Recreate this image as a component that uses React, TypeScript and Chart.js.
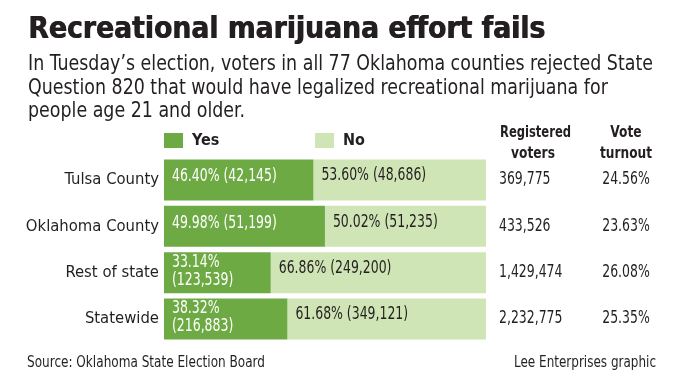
import React, { useEffect, useRef } from "react";
import { Chart, registerables } from "chart.js";

Chart.register(...registerables);

const titleText = "Recreational marijuana effort fails";
const subtitleLines = [
  "In Tuesday\u2019s election, voters in all 77 Oklahoma counties rejected State",
  "Question 820 that would have legalized recreational marijuana for",
  "people age 21 and older.",
];
const categories = ["Tulsa County", "Oklahoma County", "Rest of state", "Statewide"];
const yesPct = [46.4, 49.98, 33.14, 38.32];
const noPct = [53.6, 50.02, 66.86, 61.68];
const yesVotes = ["42,145", "51,199", "123,539", "216,883"];
const noVotes = ["48,686", "51,235", "249,200", "349,121"];
const registeredVoters = ["369,775", "433,526", "1,429,474", "2,232,775"];
const voteTurnout = ["24.56%", "23.63%", "26.08%", "25.35%"];
const seriesNames = ["Yes", "No"];
const headerLines = [["Registered", "voters"], ["Vote", "turnout"]];
const sourceText = "Source: Oklahoma State Election Board";
const creditText = "Lee Enterprises graphic";

const YES_COLOR = "#6eaa44";
const NO_COLOR = "#d0e5b5";
const TEXT = "#231f20";
const FONT = '"DejaVu Sans Condensed", "DejaVu Sans", sans-serif';
const NUM_SX = 0.815;

function fitText(
  ctx: CanvasRenderingContext2D,
  text: string,
  x: number,
  y: number,
  font: string,
  targetWidth: number,
  align: "left" | "right" | "center" = "left",
  sx?: number,
  embolden = 0
) {
  ctx.font = font;
  const w = ctx.measureText(text).width;
  const s = sx ?? targetWidth / w;
  ctx.save();
  ctx.translate(x, y);
  ctx.scale(s, 1);
  ctx.textAlign = align;
  ctx.fillText(text, 0, 0);
  if (embolden > 0) ctx.fillText(text, embolden, 0);
  ctx.restore();
  return s;
}

const decorPlugin = {
  id: "decor",
  afterDraw(chart: any) {
    const ctx: CanvasRenderingContext2D = chart.ctx;
    ctx.save();
    ctx.fillStyle = TEXT;
    ctx.textBaseline = "alphabetic";
    // title
    fitText(ctx, titleText, 28, 38, `bold 31px ${FONT}`, 517, "left", undefined, 0.9);
    // subtitle
    const subFont = `20.5px ${FONT}`;
    const s = fitText(ctx, subtitleLines[0], 28, 70, subFont, 625);
    fitText(ctx, subtitleLines[1], 28, 93.5, subFont, 0, "left", s);
    fitText(ctx, subtitleLines[2], 28, 117, subFont, 0, "left", s);

    // legend
    ctx.fillStyle = YES_COLOR;
    ctx.fillRect(164, 133, 19, 15);
    ctx.fillStyle = NO_COLOR;
    ctx.fillRect(315, 133, 19, 15);
    ctx.fillStyle = TEXT;
    ctx.font = `bold 16px ${FONT}`;
    ctx.textAlign = "left";
    ctx.textBaseline = "middle";
    ctx.fillText(seriesNames[0], 192, 141);
    ctx.fillText(seriesNames[1], 343, 141);

    // column headers
    const hFont = `bold 16px ${FONT}`;
    fitText(ctx, headerLines[0][0], 535.5, 133, hFont, 71, "center");
    fitText(ctx, headerLines[0][1], 533, 154, hFont, 0, "center", 0.85);
    fitText(ctx, headerLines[1][0], 626, 133, hFont, 0, "center", 0.85);
    fitText(ctx, headerLines[1][1], 626, 154, hFont, 52, "center");

    const m0 = chart.getDatasetMeta(0);
    const m1 = chart.getDatasetMeta(1);
    const nFont = `17px ${FONT}`;
    ctx.font = nFont;
    m0.data.forEach((bar: any, i: number) => {
      const cy = bar.y;
      // yes label
      ctx.fillStyle = "#ffffff";
      const yt = `${yesPct[i].toFixed(2)}% (${yesVotes[i]})`;
      ctx.font = nFont;
      const avail = bar.x - bar.base - 24;
      if (ctx.measureText(yt).width * NUM_SX <= avail) {
        fitText(ctx, yt, bar.base + 8, cy - 3, nFont, 0, "left", NUM_SX);
      } else {
        fitText(ctx, `${yesPct[i].toFixed(2)}%`, bar.base + 8, cy - 10, nFont, 0, "left", NUM_SX);
        fitText(ctx, `(${yesVotes[i]})`, bar.base + 8, cy + 8, nFont, 0, "left", NUM_SX);
      }
      // no label
      const nb = m1.data[i];
      ctx.fillStyle = TEXT;
      fitText(ctx, `${noPct[i].toFixed(2)}% (${noVotes[i]})`, nb.base + 8, cy - 4, nFont, 0, "left", NUM_SX);
      // table values
      fitText(ctx, registeredVoters[i], 499, cy, nFont, 0, "left", NUM_SX);
      fitText(ctx, voteTurnout[i], 626, cy, nFont, 0, "center", NUM_SX);
    });

    // footer
    ctx.fillStyle = TEXT;
    ctx.textBaseline = "middle";
    const fFont = `15px ${FONT}`;
    fitText(ctx, sourceText, 27, 363, fFont, 238, "left");
    fitText(ctx, creditText, 656, 363, fFont, 142, "right");
    ctx.restore();
  },
};

export default function App() {
  const ref = useRef<HTMLCanvasElement>(null);
  useEffect(() => {
    if (!ref.current) return;
    const chart = new Chart(ref.current, {
      type: "bar",
      data: {
        labels: categories,
        datasets: [
          { label: seriesNames[0], data: yesPct, backgroundColor: YES_COLOR, borderWidth: 0 },
          { label: seriesNames[1], data: noPct, backgroundColor: NO_COLOR, borderWidth: 0 },
        ],
      },
      options: {
        indexAxis: "y",
        responsive: false,
        animation: false,
        devicePixelRatio: 1,
        categoryPercentage: 1,
        barPercentage: 0.885,
        layout: { padding: { left: 0, right: 198, top: 156.8, bottom: 48.8 } },
        plugins: { legend: { display: false }, title: { display: false }, tooltip: { enabled: false } },
        scales: {
          x: { stacked: true, min: 0, max: 100, display: false },
          y: {
            stacked: true,
            grid: { display: false, drawTicks: false },
            border: { display: false },
            ticks: { color: TEXT, padding: 5, font: { family: FONT, size: 16.5 } },
            afterFit(scale: any) {
              scale.width = 164;
            },
          },
        },
      } as any,
      plugins: [decorPlugin],
    });
    return () => chart.destroy();
  }, []);
  return (
    <div style={{ position: "absolute", left: 0, top: 0, width: 684, height: 391, background: "#fff" }}>
      <canvas ref={ref} width={684} height={391} />
    </div>
  );
}
